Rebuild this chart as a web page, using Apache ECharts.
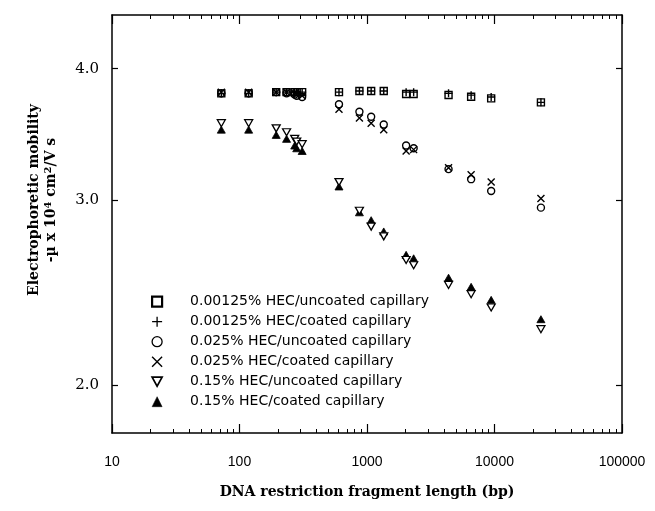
<!DOCTYPE html>
<html>
<head>
<meta charset="utf-8">
<script src="https://cdn.jsdelivr.net/npm/echarts@6/dist/echarts.min.js"></script>
<style>html,body{margin:0;padding:0;background:#fff}#c{width:655px;height:511px}</style>
</head>
<body>
<div id="c"></div>
<script>
// DNA fragment sizes (bp): phiX174/HaeIII + lambda/HindIII
const fragmentSizes = [72, 118, 194, 234, 271, 281, 310, 603, 872, 1078, 1353, 2027, 2322, 4361, 6557, 9416, 23130];

const hec00125Uncoated = [3.79, 3.79, 3.80, 3.80, 3.80, 3.80, 3.80, 3.80, 3.81, 3.81, 3.81, 3.785, 3.785, 3.776, 3.762, 3.748, 3.716];
const hec00125Coated   = [3.79, 3.79, 3.80, 3.80, 3.80, 3.80, 3.80, 3.80, 3.81, 3.81, 3.81, 3.80, 3.80, 3.79, 3.775, 3.76, 3.716];
const hec025Uncoated   = [3.79, 3.79, 3.80, 3.79, 3.78, 3.77, 3.76, 3.70, 3.64, 3.60, 3.54, 3.38, 3.36, 3.21, 3.14, 3.06, 2.95];
const hec025Coated     = [3.80, 3.80, 3.80, 3.80, 3.79, 3.78, 3.77, 3.66, 3.59, 3.55, 3.50, 3.34, 3.35, 3.22, 3.17, 3.12, 3.01];
const hec15Uncoated    = [3.55, 3.55, 3.51, 3.48, 3.43, 3.41, 3.39, 3.12, 2.93, 2.83, 2.77, 2.63, 2.60, 2.49, 2.44, 2.37, 2.26];
const hec15Coated      = [3.50, 3.50, 3.46, 3.43, 3.38, 3.36, 3.34, 3.09, 2.92, 2.87, 2.80, 2.66, 2.64, 2.53, 2.48, 2.41, 2.31];

const seriesNames = [
  '0.00125% HEC/uncoated capillary',
  '0.00125% HEC/coated capillary',
  '0.025% HEC/uncoated capillary',
  '0.025% HEC/coated capillary',
  '0.15% HEC/uncoated capillary',
  '0.15% HEC/coated capillary'
];

const xMajorTicks = [10, 100, 1000, 10000, 100000];
const xMinorTicks = [20, 30, 40, 50, 60, 70, 80, 90,
  200, 300, 400, 500, 600, 700, 800, 900,
  2000, 3000, 4000, 5000, 6000, 7000, 8000, 9000,
  20000, 30000, 40000, 50000, 60000, 70000, 80000, 90000];
const yMajorTicks = [2.0, 3.0, 4.0];

const xTitle = 'DNA restriction fragment length (bp)';
const yTitleLine1 = 'Electrophoretic mobility';

const pair = (vals) => fragmentSizes.map((x, i) => [x, vals[i]]);

const SYM_PLUS = 'path://M5,0L5,10M0,5L10,5';
const SYM_CROSS = 'path://M0,0L10,10M10,0L0,10';
const SYM_DOWN = 'path://M0,0L10,0L5,9Z';

const openStyle = { color: 'rgba(0,0,0,0)', borderColor: '#000', borderWidth: 1.4, opacity: 1 };

const seriesDefs = [
  { data: hec00125Uncoated, symbol: 'rect', size: 7, style: openStyle, z: 2 },
  { data: hec00125Coated, symbol: SYM_PLUS, size: 8, style: openStyle, z: 2 },
  { data: hec025Uncoated, symbol: 'circle', size: 7, style: openStyle, z: 2 },
  { data: hec025Coated, symbol: SYM_CROSS, size: 7, style: openStyle, z: 2 },
  { data: hec15Uncoated, symbol: SYM_DOWN, size: [8, 7], style: { color: '#fff', borderColor: '#000', borderWidth: 1.3, opacity: 1 }, z: 4 },
  { data: hec15Coated, symbol: 'triangle', size: [8, 7], style: { color: '#000', borderColor: '#000', borderWidth: 0.8, opacity: 1 }, z: 3 }
];

const legendStyles = [
  { color: 'rgba(0,0,0,0)', borderColor: '#000', borderWidth: 2.2 },
  { color: 'rgba(0,0,0,0)', borderColor: '#000', borderWidth: 1.3 },
  { color: 'rgba(0,0,0,0)', borderColor: '#000', borderWidth: 1.3 },
  { color: 'rgba(0,0,0,0)', borderColor: '#000', borderWidth: 1.4 },
  { color: '#fff', borderColor: '#000', borderWidth: 1.7 },
  { color: '#000', borderColor: '#000', borderWidth: 0.5 }
];

const axisLineStyle = { show: true, lineStyle: { color: '#000', width: 1.5 } };
const gridPos = { left: 112, right: 33, top: 15, bottom: 78 };

const xBase = { type: 'log', logBase: 10, min: 10, max: 100000, splitLine: { show: false } };
const yBase = { type: 'log', logBase: 10, min: 1.8, max: 4.5, splitLine: { show: false } };

const option = {
  backgroundColor: '#fff',
  animation: false,
  grid: gridPos,
  legend: {
    orient: 'vertical',
    left: 146,
    top: 289.7,
    itemWidth: 10,
    itemHeight: 10,
    itemGap: 6,
    selectedMode: false,
    textStyle: { fontFamily: 'DejaVu Sans', fontSize: 14, color: '#000', padding: [0, 0, 0, 23] },
    data: seriesNames.map((n, i) => ({ name: n, itemStyle: legendStyles[i] }))
  },
  xAxis: [
    Object.assign({}, xBase, {
      position: 'bottom',
      axisLine: axisLineStyle,
      axisTick: { show: true, inside: true, length: 9, customValues: xMajorTicks, lineStyle: { color: '#000', width: 1.2 } },
      axisLabel: { show: true, customValues: xMajorTicks, margin: 22, fontFamily: 'Liberation Sans', fontSize: 14, color: '#000',
        formatter: (v) => String(Math.round(v)) },
      name: xTitle,
      nameLocation: 'middle',
      nameGap: 52,
      nameTextStyle: { fontFamily: 'DejaVu Serif', fontWeight: 'bold', fontSize: 14, color: '#000' }
    }),
    Object.assign({}, xBase, {
      position: 'bottom',
      axisLine: { show: false },
      axisTick: { show: true, inside: true, length: 4, customValues: xMinorTicks, lineStyle: { color: '#000', width: 1 } },
      axisLabel: { show: false }
    }),
    Object.assign({}, xBase, {
      position: 'top',
      axisLine: axisLineStyle,
      axisTick: { show: true, inside: true, length: 9, customValues: xMajorTicks, lineStyle: { color: '#000', width: 1.2 } },
      axisLabel: { show: false }
    }),
    Object.assign({}, xBase, {
      position: 'top',
      axisLine: { show: false },
      axisTick: { show: true, inside: true, length: 4, customValues: xMinorTicks, lineStyle: { color: '#000', width: 1 } },
      axisLabel: { show: false }
    })
  ],
  yAxis: [
    Object.assign({}, yBase, {
      position: 'left',
      axisLine: axisLineStyle,
      axisTick: { show: true, inside: true, length: 6, customValues: yMajorTicks, lineStyle: { color: '#000', width: 1.2 } },
      axisLabel: { show: true, customValues: yMajorTicks, margin: 13, fontFamily: 'DejaVu Serif', fontSize: 15, color: '#000',
        formatter: (v) => Number(v).toFixed(1) },
      name: '{b|' + yTitleLine1 + '}\n{b|-\u00b5 x 10}{s|4}{b| cm}{s|2}{b|/V s}',
      nameLocation: 'middle',
      nameGap: 52,
      nameTextStyle: {
        fontFamily: 'DejaVu Serif', fontWeight: 'bold', fontSize: 14, color: '#000', lineHeight: 17,
        padding: [0, 0, 0, 48],
        rich: {
          b: { fontFamily: 'DejaVu Serif', fontWeight: 'bold', fontSize: 14, color: '#000', lineHeight: 17 },
          s: { fontFamily: 'DejaVu Serif', fontWeight: 'bold', fontSize: 10, color: '#000', verticalAlign: 'top' }
        }
      }
    }),
    Object.assign({}, yBase, {
      position: 'right',
      axisLine: axisLineStyle,
      axisTick: { show: true, inside: true, length: 6, customValues: yMajorTicks, lineStyle: { color: '#000', width: 1.2 } },
      axisLabel: { show: false }
    })
  ],
  series: seriesDefs.map((d, i) => ({
    name: seriesNames[i],
    type: 'scatter',
    xAxisIndex: 0,
    yAxisIndex: 0,
    symbol: d.symbol,
    symbolSize: d.size,
    itemStyle: d.style,
    z: d.z,
    emphasis: { disabled: true },
    data: pair(d.data)
  }))
};

const chart = echarts.init(document.getElementById('c'), null, { renderer: 'canvas' });
chart.setOption(option);
</script>
</body>
</html>
